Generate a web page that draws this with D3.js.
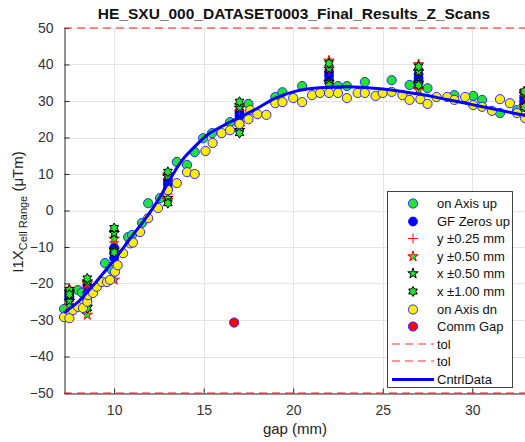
<!DOCTYPE html>
<html><head><meta charset="utf-8">
<script src="https://cdn.jsdelivr.net/npm/d3@7"></script>
<style>body{margin:0;background:#fff;} svg{display:block;font-family:"Liberation Sans",Arial,sans-serif;}</style>
</head><body><svg id="c" width="525" height="442"></svg>
<script>
const titleText = "HE_SXU_000_DATASET0003_Final_Results_Z_Scans";
const xLabel = "gap (mm)";
const xTicks = [10, 15, 20, 25, 30];
const yTicks = [-50, -40, -30, -20, -10, 0, 10, 20, 30, 40, 50];
const tolValues = [50, -50];

// on Axis up (green)
const upX = [7.2, 7.98, 8.2, 9.49, 9.88, 10.78, 11.0, 11.56, 11.9, 12.56, 13.5, 14.07, 14.5, 14.97, 15.47, 16.47, 17.5, 19.0, 19.4, 20.5, 22.5, 23.0, 24.0, 25.5, 26.5, 27.5, 29.0, 30.05, 30.55, 31.55, 32.5, 32.95];
const upY = [-27.0, -21.8, -22.5, -14.4, -16.3, -7.3, -6.7, -3.4, 2.0, 3.4, 13.3, 12.5, 16.0, 19.8, 21.2, 24.2, 29.2, 31.1, 32.4, 34.1, 34.1, 34.1, 35.2, 35.7, 34.4, 33.5, 31.6, 31.4, 30.3, 26.7, 27.5, 28.9];

// on Axis dn (yellow)
const dnX = [7.2, 7.5, 7.7, 7.98, 8.26, 8.5, 8.54, 8.82, 9.04, 9.32, 9.6, 9.77, 10.05, 10.2, 10.5, 10.9, 11.05, 11.45, 11.9, 12.45, 13.0, 13.5, 14.07, 14.5, 15.1, 15.5, 16.0, 16.47, 17.0, 17.5, 17.6, 18.0, 18.5, 19.0, 19.4, 20.0, 20.5, 21.05, 21.5, 22.0, 22.5, 23.0, 23.6, 24.0, 24.6, 25.0, 25.5, 26.1, 26.5, 27.1, 27.5, 28.0, 28.6, 29.0, 29.6, 30.05, 30.55, 31.1, 31.55, 32.1, 32.5, 32.95];
const dnY = [-29.2, -29.5, -27.3, -26.4, -26.7, -25.0, -23.2, -22.6, -20.9, -19.6, -19.6, -19.0, -16.8, -15.0, -11.7, -9.0, -8.8, -5.9, -2.1, 0.7, 5.6, 7.5, 10.5, 10.0, 16.3, 18.5, 21.2, 22.0, 23.7, 25.0, 27.5, 26.4, 26.2, 29.4, 29.7, 30.8, 29.7, 31.6, 32.2, 32.2, 32.2, 30.8, 32.2, 32.2, 31.4, 32.2, 32.5, 31.6, 30.3, 30.5, 29.2, 31.1, 31.1, 30.3, 31.1, 28.9, 28.4, 27.3, 30.5, 29.4, 26.7, 25.3];

// stacked step positions
const stackX = [7.5, 8.5, 10, 13, 17, 22, 27, 32.9];
const gfHi  = [-22.8, -20.5, -10.2, 8.3, 27.2, 38.0, 37.3, 31.0];
const gfMid = [-23.5, -22.5, -11.6, 7.2, 26.5, 37.0, 36.2, 30.2];
const gfLo  = [-24.2, -24.5, -13.0, 6.0, 25.8, 35.8, 35.0, 29.5];
const y25Hi = [-22.0, -21.2, -8.6, 8.8, 27.5, 38.5, 38.5, 31.5];
const y25Lo = [-25.0, -23.5, -14.5, 4.5, 24.5, 34.8, 34.0, 29.0];
const y50Hi = [-21.5, -20.0, -7.8, 9.8, 28.8, 41.0, 40.0, 32.5];
const y50Lo = [-26.0, -28.6, -19.0, 2.8, 22.8, 33.5, 33.0, 28.0];
const x50Hi = [-22.3, -19.5, -6.2, 9.3, 28.1, 38.8, 38.0, 32.0];
const x50Lo = [-24.8, -26.4, -10.8, 3.4, 22.0, 35.1, 35.0, 28.6];
const x100Hi = [-21.8, -18.6, -4.8, 10.6, 29.8, 40.3, 39.4, 32.6];
const x100Lo = [-23.0, -26.8, -11.5, 2.0, 21.2, 34.3, 34.3, 28.4];

// Comm Gap
const gapX = [16.7];
const gapY = [-30.7];

// CntrlData
const lineX = [7.2, 8, 9, 10, 11, 12, 12.56, 13, 13.68, 14.5, 15.2, 16, 17, 18, 19, 20, 21, 22, 23, 24, 25, 26, 27, 28, 29, 30, 31, 32, 33];
const lineY = [-28, -25, -19.5, -13.5, -7, -0.5, 3.7, 7.5, 13, 17.5, 20.7, 23, 25.5, 28, 30.8, 32.5, 33.4, 33.8, 33.9, 33.7, 33.3, 32.7, 31.9, 31, 30, 29, 28, 27, 26];

const legendNames = ["on Axis up", "GF Zeros up", "y \u00b10.25 mm", "y \u00b10.50 mm", "x \u00b10.50 mm", "x \u00b11.00 mm", "on Axis dn", "Comm Gap", "tol", "tol", "CntrlData"];

const svg = d3.select("#c");
const x = d3.scaleLinear().domain([7.2, 33]).range([64, 526]);
const y = d3.scaleLinear().domain([-50, 50]).range([393, 28]);
const axisCol = "#262626";

// custom symbols
const hexagram = { draw(ctx, size) {
  const R = Math.sqrt(size / 1.2), r = R / Math.sqrt(3);
  for (let i = 0; i < 12; i++) {
    const a = -Math.PI / 2 + i * Math.PI / 6, rr = i % 2 === 0 ? R : r;
    const px = rr * Math.cos(a), py = rr * Math.sin(a);
    if (i === 0) ctx.moveTo(px, py); else ctx.lineTo(px, py);
  }
  ctx.closePath();
}};
const plus = { draw(ctx, size) {
  const h = Math.sqrt(size) / 2;
  ctx.moveTo(-h, 0); ctx.lineTo(h, 0); ctx.moveTo(0, -h); ctx.lineTo(0, h);
}};

// grid
const grid = svg.append("g");
grid.selectAll(".gx").data(xTicks).join("line")
  .attr("x1", d => Math.round(x(d)) + 0.5).attr("x2", d => Math.round(x(d)) + 0.5).attr("y1", y(50)).attr("y2", y(-50))
  .attr("stroke", "#e3e3e3").attr("stroke-width", 1);
grid.selectAll(".gy").data(yTicks).join("line")
  .attr("x1", x(7.2)).attr("x2", 526).attr("y1", d => Math.round(y(d)) + 0.5).attr("y2", d => Math.round(y(d)) + 0.5)
  .attr("stroke", "#e3e3e3").attr("stroke-width", 1);

// axes
const xAxis = d3.axisBottom(x).tickValues(xTicks).tickSizeInner(-5).tickSizeOuter(0).tickPadding(12);
const gx = svg.append("g").attr("transform", `translate(0,${y(-50) + 0.5})`).call(xAxis);
const yAxis = d3.axisLeft(y).tickValues(yTicks).tickSizeInner(-5).tickSizeOuter(0).tickPadding(11);
const gy = svg.append("g").attr("transform", `translate(${x(7.2) + 0.5},0)`).call(yAxis);
[gx, gy].forEach(g => {
  g.select(".domain").attr("stroke", axisCol);
  g.selectAll(".tick line").attr("stroke", axisCol);
  g.selectAll(".tick text").attr("fill", "#333").style("font-size", "14px").style("font-family", '"Liberation Sans",Arial,sans-serif');
});

const plot = svg.append("g");
const green = "#1ee62e", yellow = "#ffee00", blueEdge = "#2a2aff";

// on Axis up
plot.selectAll(".up").data(upX.map((d, i) => [d, upY[i]])).join("circle")
  .attr("cx", d => x(d[0])).attr("cy", d => y(d[1])).attr("r", 4.6)
  .attr("fill", green).attr("stroke", blueEdge).attr("stroke-width", 1);

const pairs = (hi, lo) => stackX.flatMap((sx, i) => [[sx, hi[i]], [sx, lo[i]]]);

// GF Zeros up
plot.selectAll(".gf").data(stackX.flatMap((sx, i) => [[sx, gfHi[i]], [sx, gfMid[i]], [sx, gfLo[i]]])).join("circle")
  .attr("cx", d => x(d[0])).attr("cy", d => y(d[1])).attr("r", 4.4)
  .attr("fill", "#0000ff").attr("stroke", "#0000ff").attr("stroke-width", 1);

// y ±0.25
plot.selectAll(".y25").data(pairs(y25Hi, y25Lo)).join("path")
  .attr("transform", d => `translate(${x(d[0])},${y(d[1])})`)
  .attr("d", d3.symbol(plus, 100)).attr("fill", "none").attr("stroke", "#ff0000").attr("stroke-width", 1);
// y ±0.50
plot.selectAll(".y50").data(pairs(y50Hi, y50Lo)).join("path")
  .attr("transform", d => `translate(${x(d[0])},${y(d[1])})`)
  .attr("d", d3.symbol(d3.symbolStar, 34)).attr("fill", green).attr("stroke", "#ff0000").attr("stroke-width", 1);
// x ±0.50
plot.selectAll(".x50").data(pairs(x50Hi, x50Lo)).join("path")
  .attr("transform", d => `translate(${x(d[0])},${y(d[1])})`)
  .attr("d", d3.symbol(d3.symbolStar, 34)).attr("fill", green).attr("stroke", "#000").attr("stroke-width", 1);
// x ±1.00
plot.selectAll(".x100").data(pairs(x100Hi, x100Lo)).join("path")
  .attr("transform", d => `translate(${x(d[0])},${y(d[1])})`)
  .attr("d", d3.symbol(hexagram, 30)).attr("fill", green).attr("stroke", "#000").attr("stroke-width", 1);

// on Axis dn
plot.selectAll(".dn").data(dnX.map((d, i) => [d, dnY[i]])).join("circle")
  .attr("cx", d => x(d[0])).attr("cy", d => y(d[1])).attr("r", 4.6)
  .attr("fill", yellow).attr("stroke", blueEdge).attr("stroke-width", 1);

// Comm Gap
plot.selectAll(".gap").data(gapX.map((d, i) => [d, gapY[i]])).join("circle")
  .attr("cx", d => x(d[0])).attr("cy", d => y(d[1])).attr("r", 4.6)
  .attr("fill", "#ff0000").attr("stroke", blueEdge).attr("stroke-width", 1);

// tol
plot.selectAll(".tol").data(tolValues).join("line")
  .attr("x1", x(7.2)).attr("x2", 526).attr("y1", d => y(d)).attr("y2", d => y(d))
  .attr("stroke", "#ff2020").attr("stroke-width", 1.2).attr("stroke-dasharray", "8,5");

// CntrlData
plot.append("path").datum(lineX.map((d, i) => [d, lineY[i]]))
  .attr("d", d3.line().x(d => x(d[0])).y(d => y(d[1])).curve(d3.curveMonotoneX))
  .attr("fill", "none").attr("stroke", "#0000ff").attr("stroke-width", 3);

// title & labels
svg.append("text").attr("x", 294).attr("y", 19).attr("text-anchor", "middle")
  .style("font-weight", "bold").style("font-size", "15.5px").attr("fill", "#111").text(titleText);
svg.append("text").attr("x", 295).attr("y", 434).attr("text-anchor", "middle")
  .style("font-size", "15px").attr("fill", "#222").text(xLabel);
const yl = svg.append("text").attr("transform", "translate(23,212) rotate(-90)").attr("text-anchor", "middle")
  .style("font-size", "15px").attr("fill", "#222");
yl.append("tspan").text("I1X");
yl.append("tspan").attr("dy", 4).style("font-size", "11px").text("Cell Range");
yl.append("tspan").attr("dy", -4).text(" (\u03bcTm)");

// legend
const lg = svg.append("g");
lg.append("rect").attr("x", 387.5).attr("y", 191.5).attr("width", 125).attr("height", 196)
  .attr("fill", "#fff").attr("stroke", "#444").attr("stroke-width", 1);
const rowY = i => Math.round(203 + i * 17.6) + 0.5;
const mx = 413;
lg.selectAll(".lt").data(legendNames).join("text")
  .attr("x", 437).attr("y", (d, i) => rowY(i)).attr("dy", "0.35em")
  .style("font-size", "13px").attr("fill", "#111").text(d => d);
lg.append("circle").attr("cx", mx).attr("cy", rowY(0)).attr("r", 4.6).attr("fill", green).attr("stroke", blueEdge);
lg.append("circle").attr("cx", mx).attr("cy", rowY(1)).attr("r", 4.4).attr("fill", "#0000ff").attr("stroke", "#0000ff");
lg.append("path").attr("transform", `translate(${mx},${rowY(2)})`).attr("d", d3.symbol(plus, 100)).attr("fill", "none").attr("stroke", "#ff0000");
lg.append("path").attr("transform", `translate(${mx},${rowY(3)})`).attr("d", d3.symbol(d3.symbolStar, 34)).attr("fill", green).attr("stroke", "#ff0000");
lg.append("path").attr("transform", `translate(${mx},${rowY(4)})`).attr("d", d3.symbol(d3.symbolStar, 34)).attr("fill", green).attr("stroke", "#000");
lg.append("path").attr("transform", `translate(${mx},${rowY(5)})`).attr("d", d3.symbol(hexagram, 30)).attr("fill", green).attr("stroke", "#000");
lg.append("circle").attr("cx", mx).attr("cy", rowY(6)).attr("r", 4.6).attr("fill", yellow).attr("stroke", blueEdge);
lg.append("circle").attr("cx", mx).attr("cy", rowY(7)).attr("r", 4.6).attr("fill", "#ff0000").attr("stroke", blueEdge);
[8, 9].forEach(i => lg.append("line").attr("x1", 392).attr("x2", 434).attr("y1", rowY(i) - 0.5).attr("y2", rowY(i) - 0.5)
  .attr("stroke", "#ff3030").attr("stroke-width", 1.2).attr("stroke-dasharray", "8,5"));
lg.append("line").attr("x1", 392).attr("x2", 434).attr("y1", rowY(10)).attr("y2", rowY(10))
  .attr("stroke", "#0000ff").attr("stroke-width", 3);
</script></body></html>
